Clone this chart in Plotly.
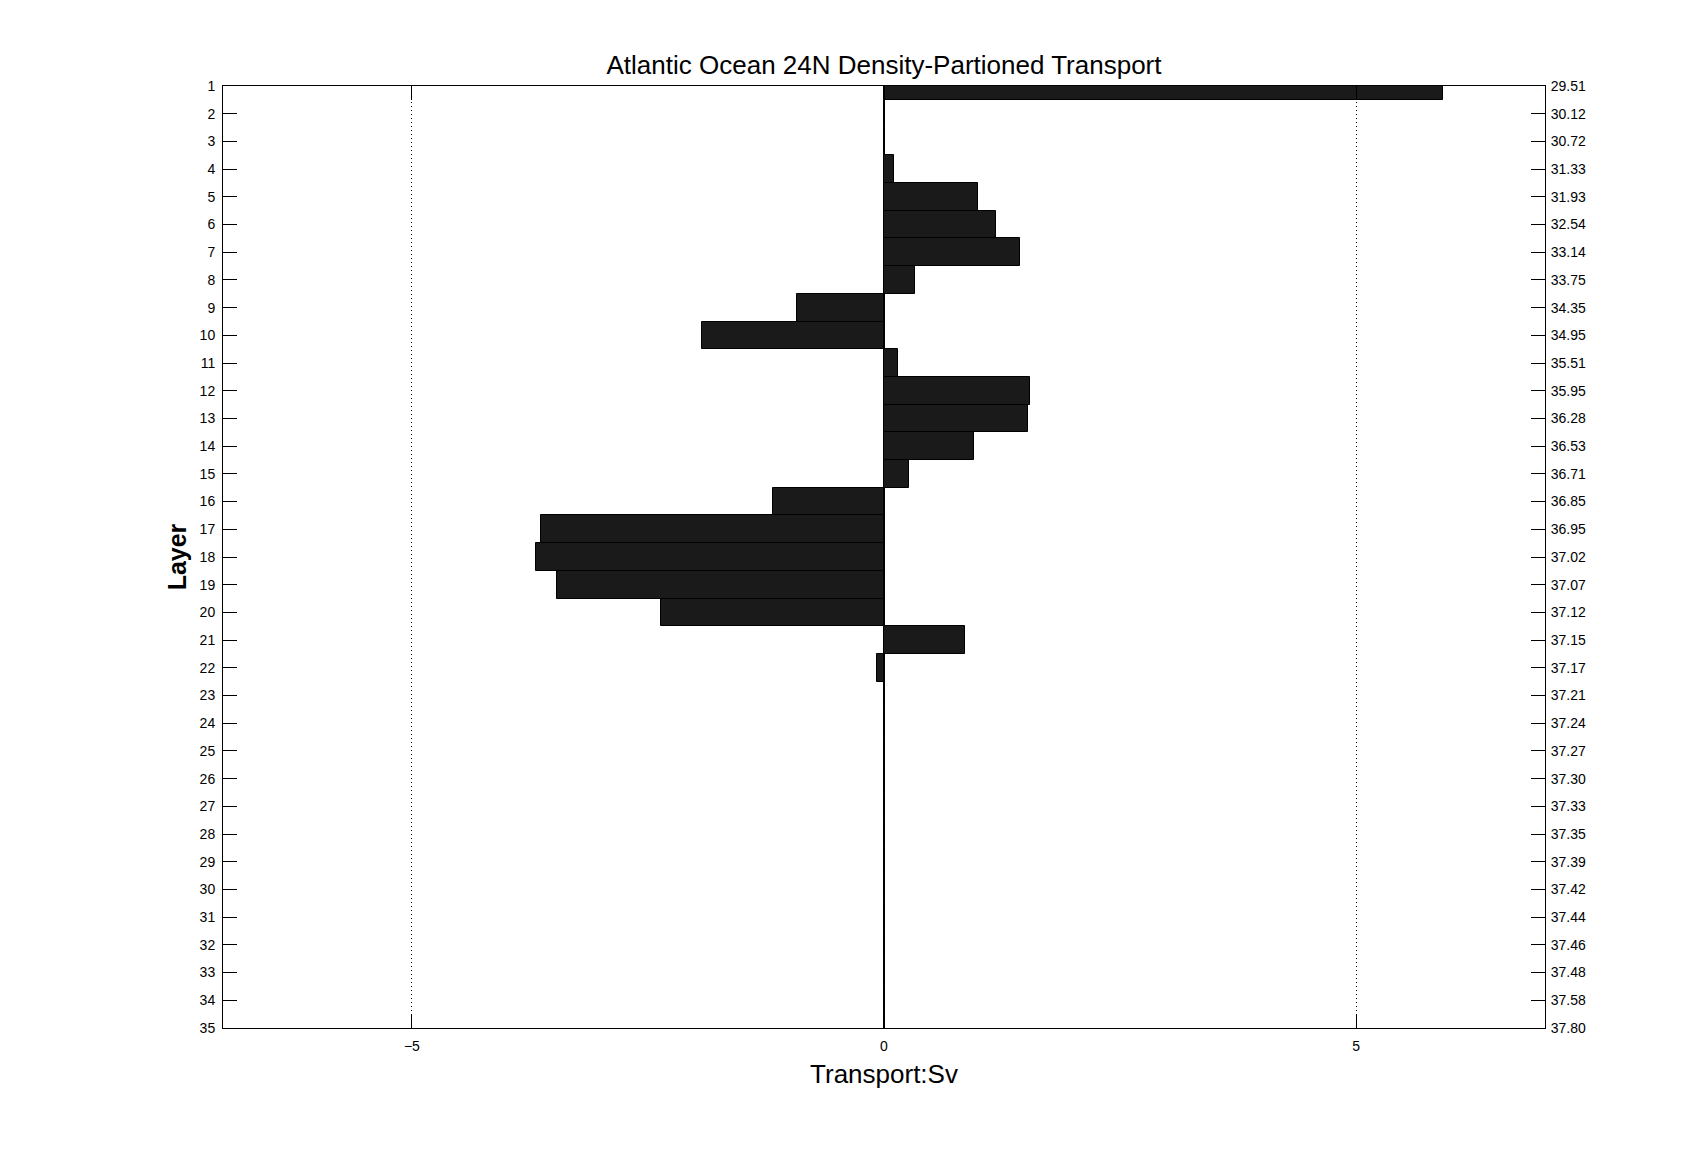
import plotly.graph_objects as go

# Layer index (1 = surface) and net transport per density layer, Sv
layers = list(range(1, 36))
transport = [
    5.92, 0.0, 0.0, 0.11, 1.00, 1.19, 1.44, 0.33, -0.92, -1.93,
    0.15, 1.55, 1.53, 0.95, 0.26, -1.18, -3.63, -3.69, -3.46, -2.36,
    0.86, -0.07, 0.0, 0.0, 0.0, 0.0, 0.0, 0.0, 0.0, 0.0,
    0.0, 0.0, 0.0, 0.0, 0.0,
]
# Density (sigma) at each layer, shown on the right-hand axis
density_labels = [
    "29.51", "30.12", "30.72", "31.33", "31.93", "32.54", "33.14", "33.75",
    "34.35", "34.95", "35.51", "35.95", "36.28", "36.53", "36.71", "36.85",
    "36.95", "37.02", "37.07", "37.12", "37.15", "37.17", "37.21", "37.24",
    "37.27", "37.30", "37.33", "37.35", "37.39", "37.42", "37.44", "37.46",
    "37.48", "37.58", "37.80",
]
x_ticks = [-5, 0, 5]

FONT = "Liberation Sans, Arial, sans-serif"

fig = go.Figure()
fig.add_trace(go.Bar(
    x=transport, y=layers, orientation="h", width=1,
    marker=dict(color="#1a1a1a", line=dict(color="black", width=1)),
    showlegend=False, hoverinfo="x+y",
))
# invisible twin so the right-hand density axis gets drawn
fig.add_trace(go.Scatter(
    x=transport, y=layers, yaxis="y2", mode="markers",
    marker=dict(opacity=0), showlegend=False, hoverinfo="skip",
))

axis_common = dict(
    showline=True, linecolor="black", linewidth=1,
    ticks="inside", ticklen=14, tickcolor="black", tickwidth=1,
    tickfont=dict(size=14, color="black", family=FONT),
)

# page body has an 8px margin, so the plot box is shifted up/left by 8
fig.update_layout(
    width=1707, height=1155,
    paper_bgcolor="white", plot_bgcolor="white",
    margin=dict(l=215, r=170, t=78, b=135),
    bargap=0,
    font=dict(family=FONT, color="black"),
    title=dict(
        text="Atlantic Ocean 24N Density-Partioned Transport",
        x=0.5, xref="paper", xanchor="center",
        y=1 - 57 / 1155, yref="container", yanchor="middle",
        font=dict(size=26, color="black", family=FONT),
    ),
    xaxis=dict(
        range=[-7, 7], tickvals=x_ticks, mirror="ticks",
        showgrid=True, gridcolor="black", gridwidth=1, griddash="1px,3px",
        zeroline=True, zerolinecolor="black", zerolinewidth=1,
        ticklabelstandoff=5,
        title=dict(text="Transport:Sv", font=dict(size=26, family=FONT), standoff=12),
        **axis_common,
    ),
    yaxis=dict(
        range=[35, 1], tickvals=layers, showgrid=False, zeroline=False,
        ticklabelstandoff=4,
        title=dict(text="<b>Layer</b>", font=dict(size=25, family=FONT), standoff=5),
        **axis_common,
    ),
    yaxis2=dict(
        range=[35, 1], overlaying="y", side="right",
        tickvals=layers, ticktext=density_labels,
        showgrid=False, zeroline=False, ticklabelstandoff=2,
        **axis_common,
    ),
)

fig.write_html("out.html")
